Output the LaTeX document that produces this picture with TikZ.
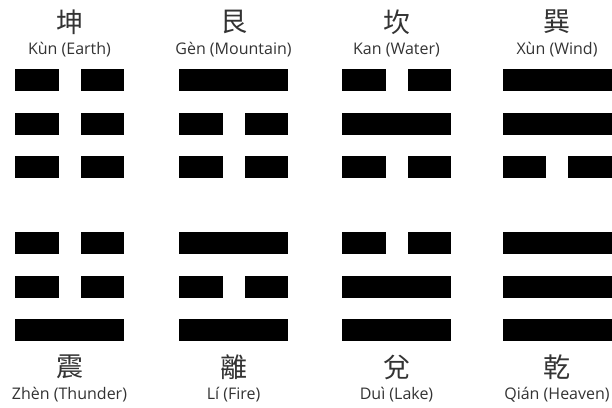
\documentclass[tikz,border=0pt]{standalone}
\usepackage{fontspec}
\setmainfont{Open Sans}
\newfontfamily\cjk{Noto Sans CJK TC}
\usetikzlibrary{positioning}
\definecolor{labelgray}{HTML}{333333}

\begin{document}
\begin{tikzpicture}[x=1pt,y=-1pt,
  yang/.style={fill=black,inner sep=0pt,minimum width=109pt,minimum height=22pt},
  yin/.style={fill=black,inner sep=0pt,minimum width=43.5pt,minimum height=22pt},
  hanzi/.style={font=\cjk\fontsize{27}{27}\selectfont,text=labelgray,inner sep=0pt},
  pinyin/.style={font=\fontsize{16}{16}\selectfont,text=labelgray,inner sep=0pt}]
\useasboundingbox (0,0) rectangle (612,407);
% ---------- trigrams: column / top-row y / lines (1 = solid, 0 = broken) ----------
\foreach \name/\cx/\cy/\la/\lb/\lc in {kun/69.5/80/0/0/0, gen/233.5/80/1/0/0, kan/396.5/80/0/1/0, xun/557/80/1/1/0,
  zhen/69.5/243/0/0/1, li/233.5/243/1/0/1, dui/396.5/243/0/1/1, qian/557/243/1/1/1}{
  \foreach \k/\l in {0/\la,1/\lb,2/\lc}{
    \pgfmathsetmacro{\ly}{\cy+43.5*\k}
    \ifnum\l=1
      \node[yang] (\name-\k) at (\cx,\ly) {};
    \else
      \node[yin] (\name-\k-a) at (\cx-32.75,\ly) {};
      \node[yin] (\name-\k-b) at (\cx+32.75,\ly) {};
    \fi
  }
}
% ---------- labels above ----------
\node[hanzi] (kun-c) at (69.5,22) {坤};
\node[pinyin] (kun-p) at (69.5,50) {Kùn (Earth)};
\node[hanzi] (gen-c) at (233.5,22) {艮};
\node[pinyin] (gen-p) at (233.5,50) {Gèn (Mountain)};
\node[hanzi] (kan-c) at (396.5,22) {坎};
\node[pinyin] (kan-p) at (396.5,50) {Kan (Water)};
\node[hanzi] (xun-c) at (557,22) {巽};
\node[pinyin] (xun-p) at (557,50) {Xùn (Wind)};
% ---------- labels below ----------
\node[hanzi] (zhen-c) at (69.5,367) {震};
\node[pinyin] (zhen-p) at (69.5,395) {Zhèn (Thunder)};
\node[hanzi] (li-c) at (233.5,367) {離};
\node[pinyin] (li-p) at (233.5,395) {Lí (Fire)};
\node[hanzi] (dui-c) at (396.5,367) {兌};
\node[pinyin] (dui-p) at (396.5,395) {Duì (Lake)};
\node[hanzi] (qian-c) at (557,367) {乾};
\node[pinyin] (qian-p) at (557,395) {Qián (Heaven)};
\end{tikzpicture}
\end{document}
